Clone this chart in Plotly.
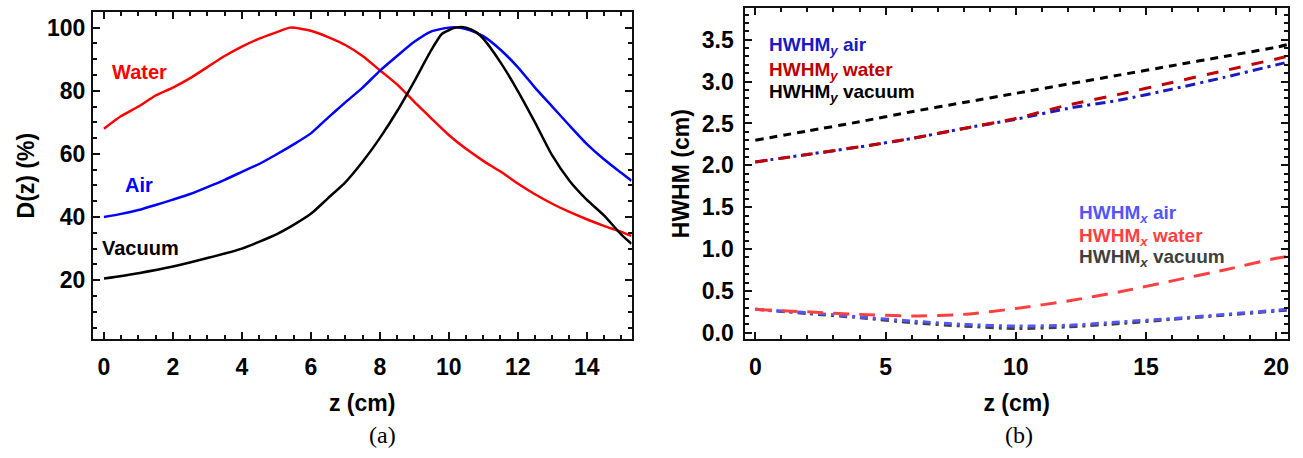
import plotly.graph_objects as go

# ---- Panel (a): relative dose D(z) along the beam axis ----
z_water = [0, 0.5, 1, 1.5, 2, 2.5, 3, 3.5, 4, 4.5, 5, 5.4, 6, 6.5, 7, 7.5, 8, 8.5,
           9, 9.5, 10, 10.5, 11, 11.5, 12, 12.5, 13, 13.5, 14, 14.5, 15, 15.3]
d_water = [68, 72, 75, 78.5, 81, 84, 87.5, 91, 94, 96.5, 98.5, 100, 99, 97, 94.5, 91,
           86.5, 82, 76.5, 71.2, 66, 61.6, 57.8, 54.4, 50.6, 47.2, 44.2, 41.6, 39.3,
           37.2, 35.3, 34]

z_air = [0, 0.5, 1, 1.5, 2, 2.5, 3, 3.5, 4, 4.5, 5, 5.5, 6, 6.5, 7, 7.5, 8, 8.5, 9,
         9.5, 10, 10.3, 10.6, 11, 11.5, 12, 12.5, 13, 13.5, 14, 14.5, 15, 15.3]
d_air = [40, 41, 42.2, 43.8, 45.5, 47.3, 49.5, 51.8, 54.3, 56.8, 59.8, 63, 66.5,
         71.5, 76.3, 81, 86.3, 91, 95.5, 98.8, 100, 100, 99.2, 97.3, 93, 87.5, 81,
         75, 69, 63.2, 58.3, 54, 51.5]

z_vac = [0, 1, 2, 3, 4, 5, 5.5, 6, 6.5, 7, 7.5, 8, 8.5, 9, 9.5, 9.8, 10.2, 10.5,
         10.8, 11, 11.5, 12, 12.5, 13, 13.5, 14, 14.5, 15, 15.3]
d_vac = [20.5, 22.2, 24.3, 27, 30, 34.5, 37.5, 41, 46, 51, 57.5, 65, 73.5, 83, 93,
         98, 100, 100, 98.5, 96.5, 89, 80, 70, 59.5, 51.5, 45.5, 40.5, 34.5, 31.5]

# ---- Panel (b): beam half widths (HWHM) versus depth ----
z_w = [0, 2, 4, 6, 8, 10, 12, 14, 16, 18, 20, 20.4]
hy_vac = [2.30, 2.41, 2.52, 2.64, 2.75, 2.86, 2.97, 3.08, 3.19, 3.30, 3.41, 3.44]
hy_water = [2.04, 2.13, 2.22, 2.32, 2.44, 2.56, 2.72, 2.85, 2.99, 3.13, 3.27, 3.30]
hy_air = [2.04, 2.13, 2.22, 2.32, 2.44, 2.55, 2.68, 2.78, 2.91, 3.05, 3.20, 3.23]
hx_water = [0.28, 0.25, 0.22, 0.20, 0.22, 0.29, 0.38, 0.49, 0.62, 0.75, 0.89, 0.91]
hx_air = [0.28, 0.24, 0.19, 0.14, 0.10, 0.08, 0.09, 0.13, 0.17, 0.22, 0.27, 0.28]
hx_vac = [0.28, 0.23, 0.18, 0.12, 0.08, 0.05, 0.07, 0.11, 0.16, 0.21, 0.26, 0.27]

W, H = 1303, 458
BOLD = dict(family="Liberation Sans, Arial, sans-serif", size=23, color="black", weight="bold")
LBL_A = dict(family="Liberation Sans, Arial, sans-serif", size=20, weight="bold")
LBL_B = dict(family="Liberation Sans, Arial, sans-serif", size=19, weight="bold")

fig = go.Figure()


def curve(x, y, color, width, dash, xa, ya):
    fig.add_trace(go.Scatter(x=x, y=y, mode="lines",
                             line=dict(color=color, width=width, dash=dash,
                                       shape="spline", smoothing=0.6),
                             xaxis=xa, yaxis=ya, showlegend=False))


# panel (a) curves
curve(z_water, d_water, "#ff0000", 2.5, "solid", "x", "y")
curve(z_air, d_air, "#0000ff", 2.5, "solid", "x", "y")
curve(z_vac, d_vac, "#000000", 2.5, "solid", "x", "y")

# panel (b) curves
curve(z_w, hy_vac, "#000000", 3, "8px,6px", "x2", "y2")
curve(z_w, hy_air, "#1a1ac0", 3, "10px,5px,3px,5px", "x2", "y2")
curve(z_w, hy_water, "#c00000", 3, "12px,11px", "x2", "y2")
curve(z_w, hx_vac, "#404040", 3, "8px,5px,3px,5px", "x2", "y2")
curve(z_w, hx_air, "#5555ff", 3, "8px,5px,3px,5px", "x2", "y2")
curve(z_w, hx_water, "#ff4040", 3, "16px,10px", "x2", "y2")

common = dict(showgrid=False, zeroline=False, showline=True, linecolor="#111", linewidth=2,
              mirror="ticks", ticks="inside", ticklen=7, tickwidth=1.5, tickcolor="#111",
              tickfont=BOLD)

fig.update_layout(
    width=W, height=H, margin=dict(l=0, r=0, t=0, b=0),
    paper_bgcolor="white", plot_bgcolor="white",
    xaxis=dict(domain=[93 / W, 632 / W], range=[-0.32, 15.3], anchor="y",
               tickvals=[0, 2, 4, 6, 8, 10, 12, 14], ticklabelstandoff=6,
               minor=dict(dtick=0.5, ticks="inside", ticklen=4, tickcolor="#111"),
               title=dict(text="z (cm)", font=BOLD, standoff=16), **common),
    yaxis=dict(domain=[(H - 344) / H, (H - 12) / H], range=[1.2, 105], anchor="x",
               tickvals=[20, 40, 60, 80, 100], ticklabelstandoff=1,
               minor=dict(dtick=5, ticks="inside", ticklen=4, tickcolor="#111"),
               title=dict(text="D(z) (%)", font=BOLD, standoff=6), **common),
    xaxis2=dict(domain=[746 / W, 1289 / W], range=[-0.38, 20.45], anchor="y2",
                tickvals=[0, 5, 10, 15, 20], ticklabelstandoff=6,
                minor=dict(dtick=1, ticks="inside", ticklen=4, tickcolor="#111"),
                title=dict(text="z (cm)", font=BOLD, standoff=16), **common),
    yaxis2=dict(domain=[(H - 344) / H, (H - 8) / H], range=[-0.08, 3.88], anchor="x2",
                tickvals=[0, 0.5, 1, 1.5, 2, 2.5, 3, 3.5], tickformat=".1f", ticklabelstandoff=5,
                minor=dict(dtick=0.1, ticks="inside", ticklen=4, tickcolor="#111"),
                title=dict(text="HWHM (cm)", font=BOLD, standoff=6), **common),
)

# curve labels, panel (a)
for txt, zx, dy, col in [("Water", 0.17, 86, "#ff0000"), ("Air", 0.55, 50, "#0000ff"),
                         ("Vacuum", -0.12, 30.3, "#000000")]:
    fig.add_annotation(x=zx, y=dy, xref="x", yref="y", text=txt, showarrow=False,
                       xanchor="left", yanchor="middle", font=dict(LBL_A, color=col))

# curve labels, panel (b)
for txt, zx, hy, col in [
    ("HWHM<sub><i>y</i></sub> air", 0.46, 3.42, "#1a1ac0"),
    ("HWHM<sub><i>y</i></sub> water", 0.46, 3.13, "#c00000"),
    ("HWHM<sub><i>y</i></sub> vacuum", 0.46, 2.86, "#000000"),
    ("HWHM<sub><i>x</i></sub> air", 12.35, 1.42, "#5555ff"),
    ("HWHM<sub><i>x</i></sub> water", 12.35, 1.14, "#ff4040"),
    ("HWHM<sub><i>x</i></sub> vacuum", 12.35, 0.89, "#404040"),
]:
    fig.add_annotation(x=zx, y=hy, xref="x2", yref="y2", text=txt, showarrow=False,
                       xanchor="left", yanchor="middle", font=dict(LBL_B, color=col))

# panel captions
SERIF = dict(family="Liberation Serif, Times New Roman, serif", size=24, color="black")
fig.add_annotation(x=383 / W, y=(H - 441) / H, xref="paper", yref="paper", text="(a)",
                   showarrow=False, font=SERIF, xanchor="center", yanchor="middle")
fig.add_annotation(x=1020 / W, y=(H - 441) / H, xref="paper", yref="paper", text="(b)",
                   showarrow=False, font=SERIF, xanchor="center", yanchor="middle")

fig.write_html("out.html")
